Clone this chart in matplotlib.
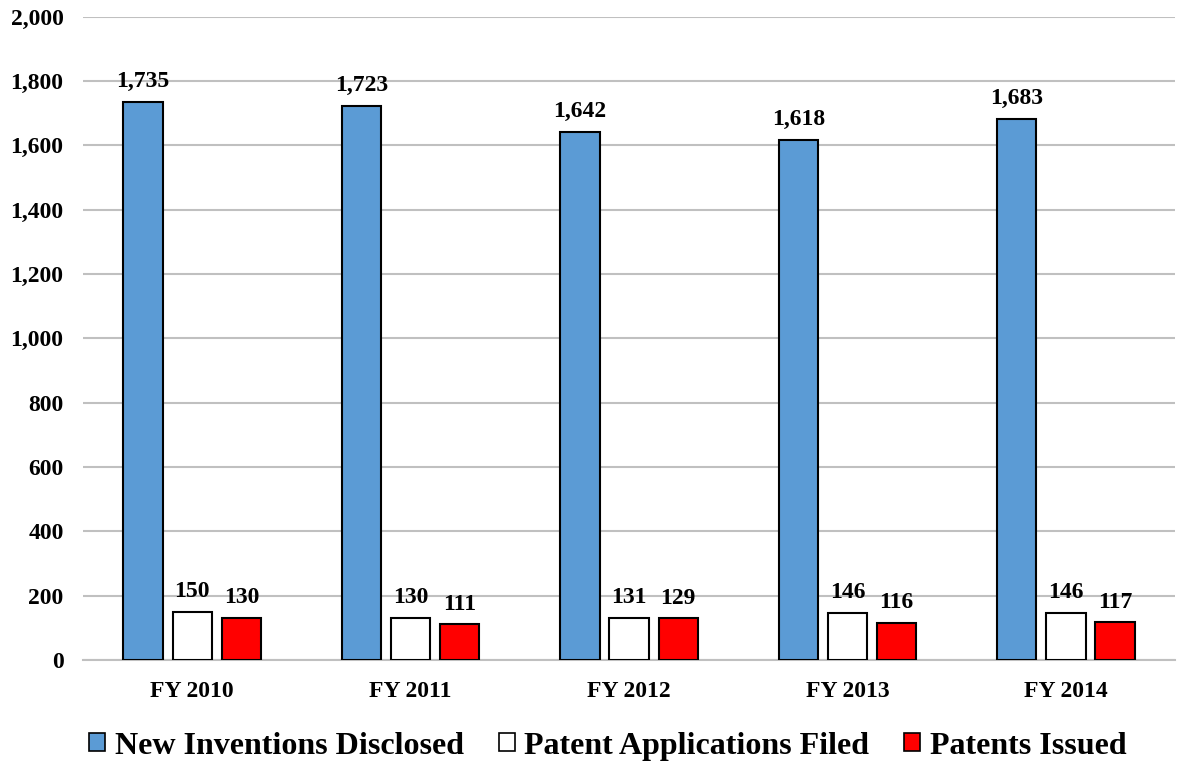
import numpy as np
import matplotlib.pyplot as plt
from matplotlib.patches import Patch

years = ['FY 2010', 'FY 2011', 'FY 2012', 'FY 2013', 'FY 2014']
inventions = [1735, 1723, 1642, 1618, 1683]
applications = [150, 130, 131, 146, 146]
issued = [130, 111, 129, 116, 117]

series_names = ['New Inventions Disclosed', 'Patent Applications Filed',
                'Patents Issued']
colors = ['#5b9bd5', '#ffffff', '#ff0000']

plt.rcParams['font.family'] = ['Liberation Serif', 'DejaVu Serif']
plt.rcParams['font.weight'] = 'bold'

fig = plt.figure(figsize=(11.78, 7.62), dpi=100)
ax = fig.add_axes([0.0705, 0.134, 0.927, 0.844])

x = np.arange(len(years))
width = 0.18
offsets = [-0.225, 0, 0.225]
for vals, off, col in zip([inventions, applications, issued], offsets, colors):
    bars = ax.bar(x + off, vals, width, color=col, edgecolor='black',
                  linewidth=1.5, zorder=3)
    for b, v in zip(bars, vals):
        ax.text(b.get_x() + b.get_width() / 2, v + 30, f'{v:,}',
                ha='center', va='bottom', fontsize=17, fontweight='bold')

ax.set_xlim(-0.5, len(years) - 0.5)
ax.set_ylim(0, 2000)
ax.set_yticks(range(0, 2001, 200))
ax.set_yticklabels([f'{v:,}' for v in range(0, 2001, 200)])
ax.set_xticks(x)
ax.set_xticklabels(years)
ax.tick_params(axis='both', length=0, labelsize=17)
ax.tick_params(axis='y', pad=14)
ax.tick_params(axis='x', pad=15)
ax.grid(axis='y', color='#c0c0c0', linewidth=1.5, zorder=0)
for s in ['left', 'right', 'top']:
    ax.spines[s].set_visible(False)
ax.spines['bottom'].set_color('#c0c0c0')
ax.spines['bottom'].set_linewidth(1.5)

handles = [Patch(facecolor=c, edgecolor='black', linewidth=1.2) for c in colors]
fig.legend(handles, series_names, loc='lower center', ncol=3, frameon=False,
           bbox_to_anchor=(0.516, -0.036), fontsize=23, handlelength=0.5,
           handleheight=0.5, handletextpad=0.3, columnspacing=1.1)

fig.savefig('out.png', dpi=100)
